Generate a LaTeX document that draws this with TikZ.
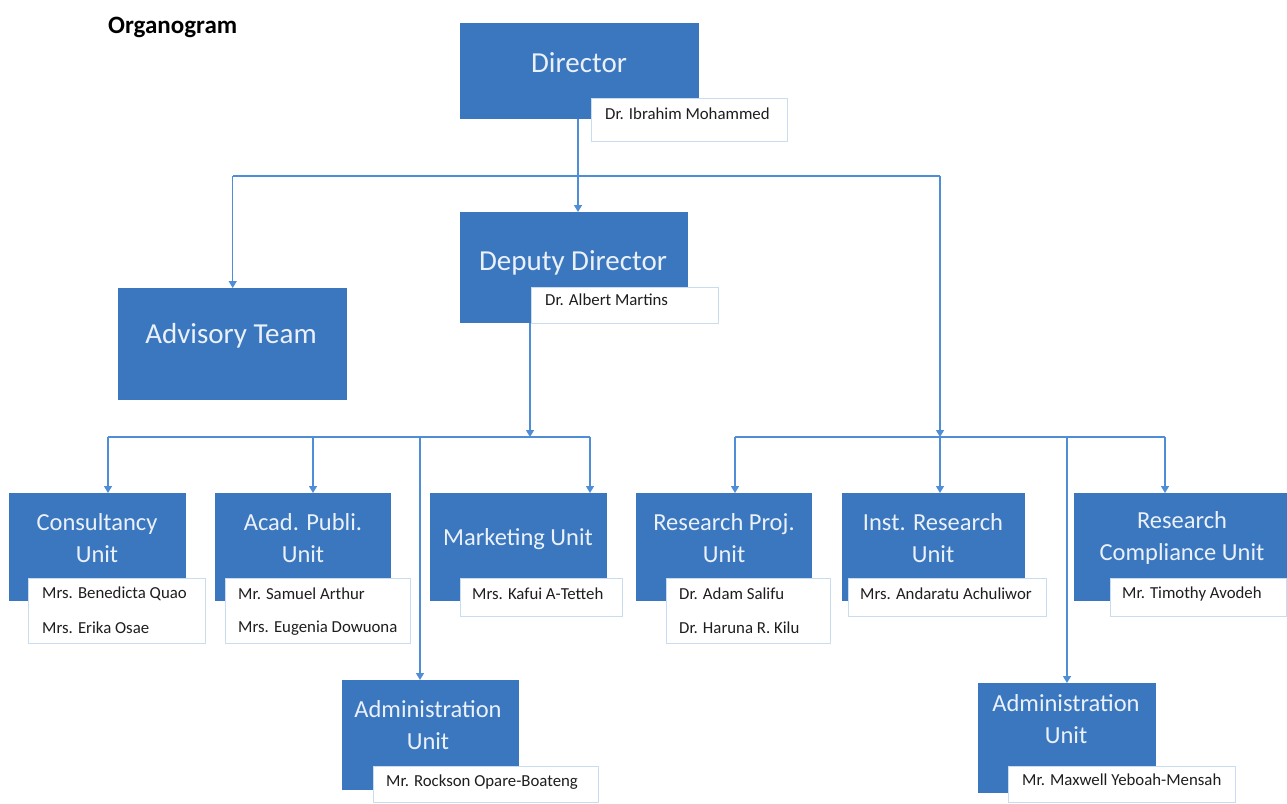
\documentclass[tikz,border=0pt]{standalone}
\usepackage{fontspec}
\setmainfont{Carlito}
\usetikzlibrary{arrows.meta}
\definecolor{boxblue}{HTML}{3B77BE}
\definecolor{lineblue}{HTML}{4F8ED6}
\definecolor{paleline}{HTML}{C9DDF1}
\definecolor{boxtext}{HTML}{EAF1FA}
\definecolor{nametext}{HTML}{1E1E1E}
\tikzset{
  unitbox/.style={fill=boxblue, draw=none, rectangle, inner sep=0pt},
  namebox/.style={fill=white, draw=paleline, line width=0.9pt, rectangle, inner sep=0pt},
  bigtext/.style={text=boxtext, font=\fontsize{29}{34}\selectfont, inner sep=0pt},
  unittext/.style={text=boxtext, font=\fontsize{24.5}{32}\selectfont, align=center, inner sep=0pt},
  nametxt/.style={text=nametext, font=\fontsize{16.8}{20}\selectfont, anchor=west, inner sep=0pt},
  link/.style={draw=lineblue, line width=1.4pt},
  arrowlink/.style={link, -{Triangle[width=8pt,length=7pt]}},
}
% rectangle node from its top-left and bottom-right corners (in px)
\newcommand{\boxat}[6]{%
  \node[#1, anchor=north west, minimum width=#5-#3, minimum height=#6-#4] (#2) at (#3,#4) {};}
\begin{document}
\begin{tikzpicture}[x=1pt,y=-1pt]
\useasboundingbox (0,0) rectangle (1287,803);

% title
\node[font=\fontsize{25}{30}\selectfont\bfseries, anchor=west, inner sep=0pt] (title) at (108,27) {Organogram};

% junction points of the connector buses
\coordinate (topbus) at (578,176);
\coordinate (lbus) at (530,437);
\coordinate (rbus) at (940,437);

% ---------- boxes ----------
\boxat{unitbox}{dir}{460}{23}{699}{119}
\boxat{unitbox}{dep}{460}{212}{688}{323}
\boxat{unitbox}{adv}{118}{288}{347}{400}
\boxat{unitbox}{cons}{9}{493}{186}{601}
\boxat{unitbox}{acad}{215}{493}{391}{601}
\boxat{unitbox}{mkt}{430}{493}{607}{601}
\boxat{unitbox}{rproj}{636}{493}{812}{601}
\boxat{unitbox}{inst}{842}{493}{1025}{601}
\boxat{unitbox}{comp}{1074}{493}{1287}{601}
\boxat{unitbox}{admL}{342}{680}{519}{790}
\boxat{unitbox}{admR}{978}{683}{1156}{793}

% ---------- links ----------
\draw[link] (dir.south -| topbus) -- (topbus);
\draw[arrowlink] (topbus) -- (dep.north -| topbus);
\draw[link] (topbus) -- (topbus -| adv.north);
\draw[arrowlink] (topbus -| adv.north) -- (adv.north);
\draw[link] (topbus) -- (topbus -| rbus);
\draw[arrowlink] (topbus -| rbus) -- (rbus);

\draw[arrowlink] (dep.south -| lbus) -- (lbus);
\draw[link] (lbus -| 108,0) -- (lbus -| 590,0);
\draw[arrowlink] (lbus -| 108,0) -- (cons.north -| 108,0);
\draw[arrowlink] (lbus -| 313,0) -- (acad.north -| 313,0);
\draw[arrowlink] (lbus -| 590,0) -- (mkt.north -| 590,0);
\draw[arrowlink] (lbus -| 420,0) -- (admL.north -| 420,0);

\draw[link] (rbus -| 735,0) -- (rbus -| 1165,0);
\draw[arrowlink] (rbus -| 735,0) -- (rproj.north -| 735,0);
\draw[arrowlink] (rbus) -- (inst.north -| rbus);
\draw[arrowlink] (rbus -| 1165,0) -- (comp.north -| 1165,0);
\draw[arrowlink] (rbus -| 1067,0) -- (admR.north -| 1067,0);

% ---------- box titles ----------
\node[bigtext] (dirT) at (579,63) {Director};
\node[bigtext] (depT) at (573,263) {Deputy Director};
\node[bigtext] (advT) at (231,336) {Advisory Team};
\node[unittext] (consT) at (97,538) {Consultancy\\Unit};
\node[unittext] (acadT) at (303,538) {Acad. Publi.\\Unit};
\node[unittext] (mktT) at (518,539) {Marketing Unit};
\node[unittext] (rprojT) at (724,538) {Research Proj.\\Unit};
\node[unittext] (instT) at (933,538) {Inst. Research\\Unit};
\node[unittext] (compT) at (1182,538) {Research\\Compliance Unit};
\node[unittext] (admLT) at (428,725) {Administration\\Unit};
\node[unittext] (admRT) at (1066,719) {Administration\\Unit};

% ---------- name plates ----------
\boxat{namebox}{dirN}{591}{98}{787}{141}
\boxat{namebox}{depN}{531}{287}{718}{323}
\boxat{namebox}{consN}{28}{578}{205}{643}
\boxat{namebox}{acadN}{225}{578}{410}{643}
\boxat{namebox}{mktN}{460}{578}{622}{616}
\boxat{namebox}{rprojN}{666}{578}{830}{643}
\boxat{namebox}{instN}{848}{578}{1046}{616}
\boxat{namebox}{compN}{1110}{578}{1286}{616}
\boxat{namebox}{admLN}{373}{766}{598}{802}
\boxat{namebox}{admRN}{1008}{766}{1235}{802}

\node[nametxt] (n1) at (605,114) {Dr. Ibrahim Mohammed};
\node[nametxt] (n2) at (545,300) {Dr. Albert Martins};
\node[nametxt] (n3) at (42,594) {Mrs. Benedicta Quao};
\node[nametxt] (n4) at (42,628) {Mrs. Erika Osae};
\node[nametxt] (n5) at (238,594) {Mr. Samuel Arthur};
\node[nametxt] (n6) at (238,628) {Mrs. Eugenia Dowuona};
\node[nametxt] (n7) at (472,594) {Mrs. Kafui A-Tetteh};
\node[nametxt] (n8) at (679,594) {Dr. Adam Salifu};
\node[nametxt] (n9) at (679,628) {Dr. Haruna R. Kilu};
\node[nametxt] (n10) at (860,594) {Mrs. Andaratu Achuliwor};
\node[nametxt] (n11) at (1122,594) {Mr. Timothy Avodeh};
\node[nametxt] (n12) at (386,782) {Mr. Rockson Opare-Boateng};
\node[nametxt] (n13) at (1022,780) {Mr. Maxwell Yeboah-Mensah};
\end{tikzpicture}
\end{document}
